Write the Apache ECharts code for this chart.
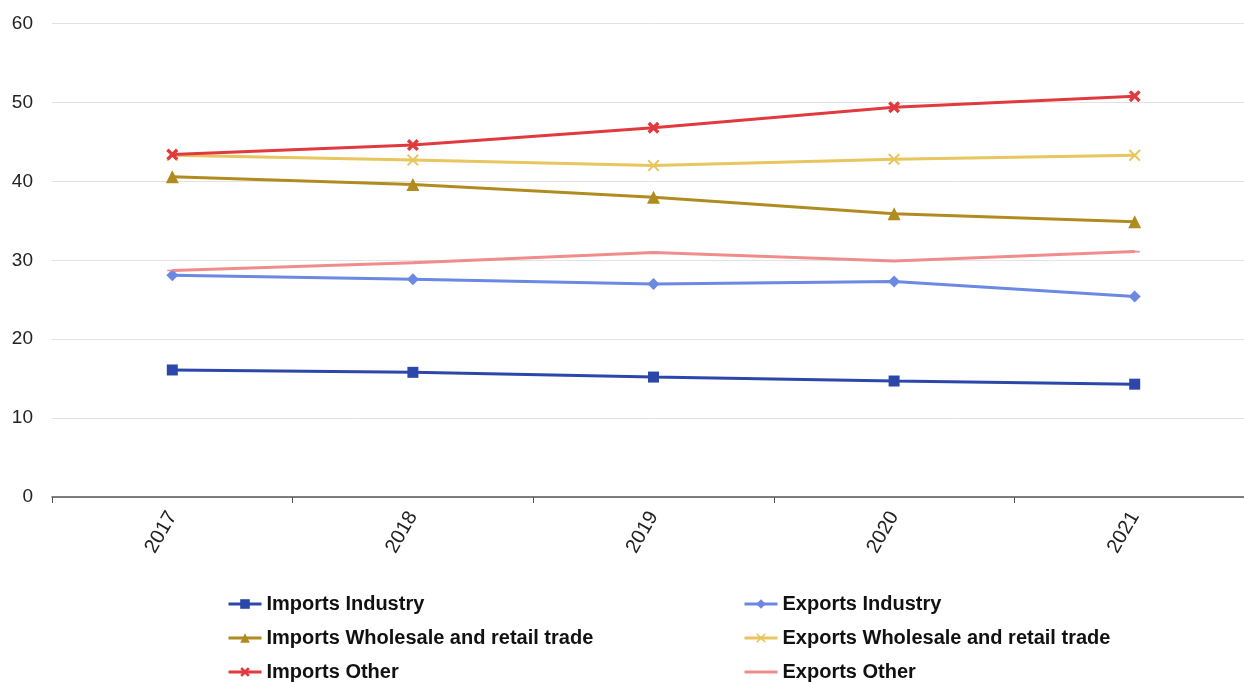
<!DOCTYPE html>
<html>
<head>
<meta charset="utf-8">
<script src="https://cdn.jsdelivr.net/npm/echarts@6/dist/echarts.min.js"></script>
<style>
  html, body { margin: 0; padding: 0; background: #fff; overflow: hidden; }
  /* the plot runs slightly past the right edge of the window */
  #chart { width: 1256px; height: 682px; }
</style>
</head>
<body>
<div id="chart"></div>
<script>
// Years on the category axis
const years = ['2017', '2018', '2019', '2020', '2021'];

// Shares (%) by trade flow and activity
const importsIndustry  = [16.1, 15.8, 15.2, 14.7, 14.3];
const exportsIndustry  = [28.1, 27.6, 27.0, 27.3, 25.4];
const importsWholesale = [40.6, 39.6, 38.0, 35.9, 34.9];
const exportsWholesale = [43.3, 42.7, 42.0, 42.8, 43.3];
const importsOther     = [43.4, 44.6, 46.8, 49.4, 50.8];
const exportsOther     = [28.7, 29.7, 31.0, 29.9, 31.1];

// Y axis range
const yMin = 0, yMax = 60, yStep = 10;

const boldX = 'path://M2,0 L5,3 L8,0 L10,2 L7,5 L10,8 L8,10 L5,7 L2,10 L0,8 L3,5 L0,2 Z';
const thinX = 'path://M1.2,0 L5,3.8 L8.8,0 L10,1.2 L6.2,5 L10,8.8 L8.8,10 L5,6.2 L1.2,10 L0,8.8 L3.8,5 L0,1.2 Z';
// short horizontal dash inside a square box (tiny corner specks keep the box square)
const dash = 'path://M0,0 L0.01,0 L0,0.01 Z M0,4.2 L10,4.2 L10,5.8 L0,5.8 Z M10,10 L9.99,10 L10,9.99 Z';

function line(name, data, color, symbol, size) {
  return {
    name, type: 'line', data,
    symbol, symbolSize: size,
    showSymbol: true,
    lineStyle: { color, width: 3 },
    itemStyle: { color },
    emphasis: { disabled: true },
    z: 3
  };
}

const series = [
  line('Imports Industry', importsIndustry, '#2c47aa', 'rect', 11),
  line('Exports Industry', exportsIndustry, '#6b88e2', 'diamond', 12),
  line('Imports Wholesale and retail trade', importsWholesale, '#b08c20', 'triangle', 13),
  line('Exports Wholesale and retail trade', exportsWholesale, '#e8c55e', thinX, 12),
  line('Imports Other', importsOther, '#e03a3e', boldX, 12),
  line('Exports Other', exportsOther, '#f08c8c', dash, 10)
];

const font = 'Liberation Sans, Arial, sans-serif';
const legendText = { fontFamily: font, fontSize: 20, fontWeight: 'bold', color: '#111', lineHeight: 20 };

function legendColumn(left, names) {
  return {
    orient: 'vertical', left, top: 594, height: 110, itemGap: 14,
    itemWidth: 33, itemHeight: 12, padding: 0,
    lineStyle: { width: 3 },
    data: names,
    textStyle: legendText, selectedMode: false
  };
}

const chart = echarts.init(document.getElementById('chart'), null, { renderer: 'canvas' });
chart.setOption({
  animation: false,
  backgroundColor: '#fff',
  grid: { left: 52, right: 1, top: 23.6, bottom: 185, containLabel: false },
  xAxis: {
    type: 'category',
    data: years,
    boundaryGap: true,
    axisLine: { lineStyle: { color: '#555', width: 1.5 } },
    axisTick: { show: true, length: 6, lineStyle: { color: '#555' } },
    axisLabel: { rotate: 60, margin: 16, fontFamily: font, fontSize: 20, color: '#222' },
    splitLine: { show: false }
  },
  yAxis: {
    type: 'value',
    min: yMin, max: yMax, interval: yStep,
    axisLine: { show: false },
    axisTick: { show: false },
    axisLabel: { margin: 19, fontFamily: font, fontSize: 19, color: '#222' },
    splitLine: { lineStyle: { color: '#e2e2e2', width: 1 } }
  },
  legend: [
    legendColumn(227, ['Imports Industry', 'Imports Wholesale and retail trade', 'Imports Other']),
    legendColumn(743, ['Exports Industry', 'Exports Wholesale and retail trade', 'Exports Other'])
  ],
  series
});
</script>
</body>
</html>
